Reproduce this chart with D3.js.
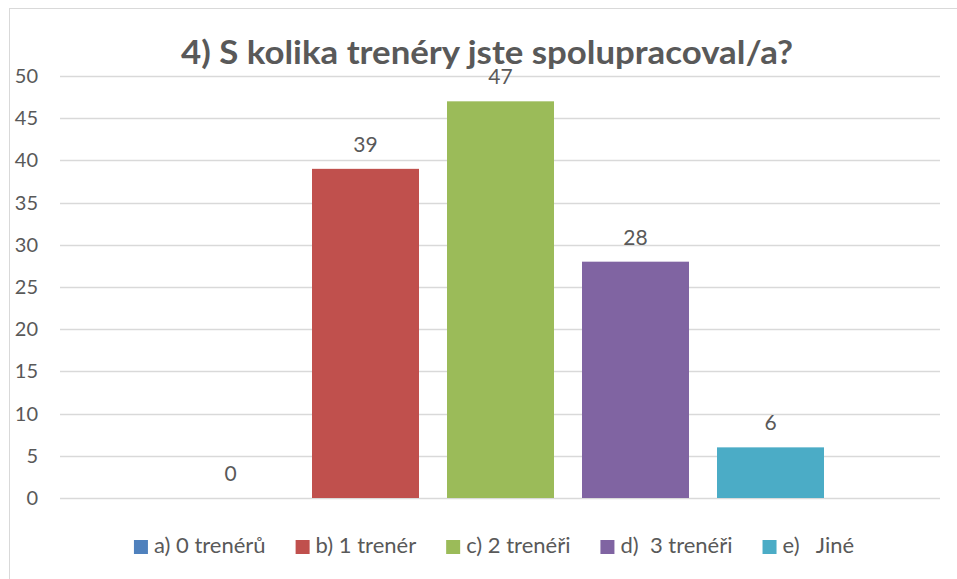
<!DOCTYPE html>
<html>
<head>
<meta charset="utf-8">
<script src="https://cdn.jsdelivr.net/npm/d3@7/dist/d3.min.js"></script>
<style>
  body { margin: 0; background: #fff; }
  text { font-family: Lato, "Open Sans", sans-serif; fill: #595959; white-space: pre; }
</style>
</head>
<body>
<svg id="chart" width="957" height="579"></svg>
<script>
var title = "4) S kolika trenéry jste spolupracoval/a?";
var series = ["a) 0 trenérů", "b) 1 trenér", "c) 2 trenéři", "d)  3 trenéři", "e)   Jiné"];
var values = [0, 39, 47, 28, 6];
var colors = ["#4F81BD", "#C0504D", "#9BBB59", "#8064A2", "#4BACC6"];
var yTicks = [0, 5, 10, 15, 20, 25, 30, 35, 40, 45, 50];

var svg = d3.select("#chart");

// chart frame
svg.append("rect")
    .attr("x", 9.5).attr("y", 8.5)
    .attr("width", 960).attr("height", 580)
    .attr("fill", "#fff")
    .attr("stroke", "#D9D9D9");

var plot = {left: 60, right: 940, top: 76, bottom: 498};

var y = d3.scaleLinear().domain([0, 50]).range([plot.bottom, plot.top]);

var x = d3.scaleBand()
    .domain(series)
    .range([163, 838])
    .paddingInner(0.2074)
    .paddingOuter(0.1037);

// gridlines
svg.append("g").selectAll("line")
    .data(yTicks)
    .enter().append("line")
    .attr("x1", plot.left).attr("x2", plot.right)
    .attr("y1", d => Math.round(y(d)) + 0.5)
    .attr("y2", d => Math.round(y(d)) + 0.5)
    .attr("stroke", "#D9D9D9")
    .attr("stroke-width", 1.5);

// y axis labels
var yAxis = svg.append("g")
    .attr("transform", "translate(" + 38 + ",0)")
    .call(d3.axisLeft(y).tickValues(yTicks).tickSize(0).tickPadding(0));
yAxis.select(".domain").remove();
yAxis.selectAll("text")
    .attr("font-family", "Lato, 'Open Sans', sans-serif")
    .attr("font-size", 20)
    .attr("fill", "#595959");

// bars
svg.append("g").selectAll("rect")
    .data(series)
    .enter().append("rect")
    .attr("x", d => x(d))
    .attr("y", (d, i) => y(values[i]))
    .attr("width", x.bandwidth())
    .attr("height", (d, i) => y(0) - y(values[i]))
    .attr("fill", (d, i) => colors[i]);

// data labels
svg.append("g").selectAll("text")
    .data(series)
    .enter().append("text")
    .attr("x", d => x(d) + x.bandwidth() / 2)
    .attr("y", (d, i) => y(values[i]) - 17)
    .attr("text-anchor", "middle")
    .attr("font-size", 21)
    .text((d, i) => values[i]);

// title
svg.append("text")
    .attr("x", 487)
    .attr("y", 64)
    .attr("text-anchor", "middle")
    .attr("font-size", 33)
    .attr("font-weight", "bold")
    .attr("textLength", 612)
    .attr("lengthAdjust", "spacingAndGlyphs")
    .text(title);

// legend
var legend = svg.append("g");
var lx = 0;
series.forEach(function(s, i) {
  var item = legend.append("g").attr("transform", "translate(" + lx + ",0)");
  item.append("rect")
      .attr("x", 0).attr("y", -13)
      .attr("width", 14).attr("height", 14)
      .attr("fill", colors[i]);
  var t = item.append("text")
      .attr("x", 20).attr("y", 0)
      .attr("font-size", 22)
      .text(s);
  lx += 20 + t.node().getComputedTextLength() + 30;
});
lx -= 30;
legend.attr("transform", "translate(" + (494 - lx / 2) + ",553)");
</script>
</body>
</html>
